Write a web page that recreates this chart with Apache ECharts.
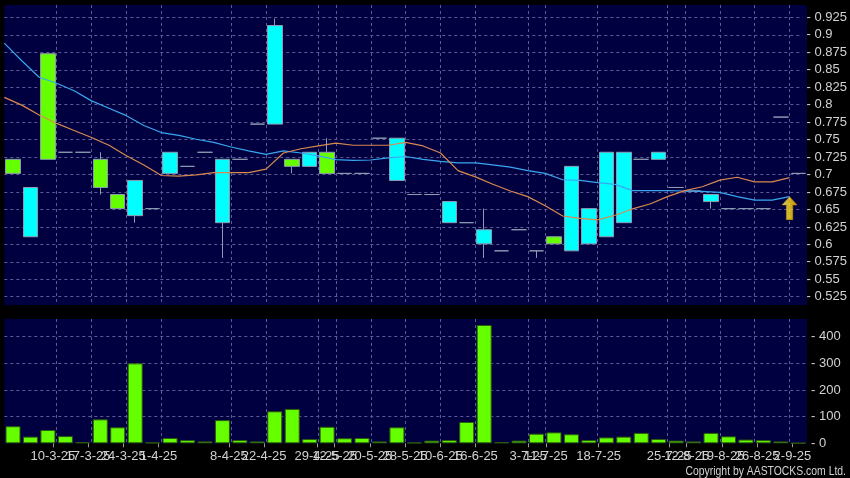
<!DOCTYPE html>
<html><head><meta charset="utf-8">
<script src="https://cdn.jsdelivr.net/npm/echarts@6/dist/echarts.min.js"></script>
<style>html,body{margin:0;padding:0;background:#000;}#c{width:850px;height:478px;}</style>
</head><body><div id="c"></div>
<script>
// ---- data ----
const dateLabels = ['', '', '', '10-3-25', '', '17-3-25', '', '24-3-25', '', '1-4-25', '', '', '', '8-4-25', '', '22-4-25', '', '', '29-4-25', '12-5-25', '', '20-5-25', '', '28-5-25', '', '10-6-25', '', '16-6-25', '', '', '3-7-25', '11-7-25', '', '', '18-7-25', '', '', '', '25-7-25', '12-8-25', '', '19-8-25', '', '26-8-25', '', '2-9-25'];
const opens  = [0.72,0.61,0.87,0.73,0.73,0.72,0.67,0.64,0.65,0.70,0.71,0.73,0.63,0.72,0.77,0.77,0.72,0.71,0.73,0.70,0.70,0.75,0.69,0.67,0.67,0.63,0.63,0.60,0.59,0.62,0.59,0.61,0.59,0.60,0.61,0.63,0.72,0.72,0.68,0.675,0.66,0.65,0.65,0.65,0.78,0.70];
const closes = [0.70,0.68,0.72,0.73,0.73,0.68,0.65,0.69,0.65,0.73,0.71,0.73,0.72,0.72,0.77,0.91,0.71,0.73,0.70,0.70,0.70,0.75,0.75,0.67,0.67,0.66,0.63,0.62,0.59,0.62,0.59,0.60,0.71,0.65,0.73,0.73,0.72,0.73,0.68,0.675,0.67,0.65,0.65,0.65,0.78,0.70];
const lows   = [0.70,0.61,0.72,0.73,0.73,0.67,0.65,0.63,0.65,0.70,0.71,0.73,0.58,0.72,0.77,0.77,0.70,0.71,0.70,0.70,0.70,0.75,0.69,0.67,0.67,0.63,0.63,0.58,0.59,0.62,0.58,0.60,0.59,0.60,0.61,0.63,0.72,0.72,0.68,0.675,0.65,0.65,0.65,0.65,0.78,0.70];
const highs  = [0.72,0.68,0.87,0.73,0.73,0.73,0.67,0.69,0.65,0.73,0.71,0.73,0.72,0.72,0.77,0.92,0.72,0.73,0.75,0.70,0.70,0.75,0.75,0.67,0.67,0.66,0.63,0.65,0.59,0.62,0.59,0.61,0.71,0.65,0.73,0.73,0.72,0.73,0.68,0.675,0.67,0.65,0.65,0.65,0.78,0.70];
const volumes = [64,25,50,27,4,90,60,300,3,20,12,7,87,12,7,120,129,16,62,19,20,7,60,3,10,12,80,444,4,10,36,41,34,12,22,25,39,16,10,7,39,26,14,12,7,1];
const maLong  = [0.885,0.860,0.8365,0.828,0.8175,0.803,0.7925,0.782,0.768,0.758,0.754,0.7485,0.744,0.7375,0.732,0.727,0.732,0.729,0.725,0.7195,0.7185,0.719,0.722,0.724,0.720,0.717,0.715,0.715,0.712,0.709,0.704,0.700,0.691,0.690,0.687,0.6845,0.6755,0.6755,0.6755,0.675,0.6745,0.673,0.667,0.662,0.662,0.667];
const maShort = [0.808,0.797,0.783,0.771,0.761,0.751,0.740,0.725,0.712,0.697,0.696,0.698,0.701,0.701,0.701,0.706,0.729,0.735,0.739,0.743,0.740,0.740,0.740,0.744,0.739,0.729,0.704,0.695,0.6845,0.675,0.667,0.654,0.6395,0.636,0.634,0.6405,0.6495,0.6565,0.667,0.6755,0.681,0.6905,0.6945,0.688,0.688,0.694];
const priceTicks = { min: 0.5, max: 0.95, step: 0.025 };
const volumeTicks = { min: 0, step: 100 };

// ---- layout / style ----
const NAVY = '#000040', GRIDC = '#5a5a96', TXT = '#d2d2d2';
const CYAN = '#00ffff', GREEN = '#66ff00', BORDER = '#8c9cb0';
const FONT = 'Liberation Sans';
const plotL = 4.3, plotW = 802.7;
const mainTop = 5, mainBot = 305;
const pxPerUnit = 17.6 / 0.025;           // pixels per price unit
const y0925 = 15;                          // pixel row of 0.925
const ovTop = y0925 - (priceTicks.max - 0.925) * pxPerUnit;
const ovBot = y0925 + (0.925 - priceTicks.min) * pxPerUnit;
const mainMin = 0.925 - (mainBot - y0925) / pxPerUnit;
const mainMax = 0.925 + (y0925 - mainTop) / pxPerUnit;
const volTop = 319, volBot = 443.3, volPxPer100 = 26.65;
const volMax = (volBot - volTop) / volPxPer100 * 100;

const bandIdx = dateLabels.map((_, i) => String(i));
const edgeIdx = dateLabels.concat(['']).map((_, i) => String(i));
const labeled = (i) => !!dateLabels[i];
// alternate labelled positions between two label axes so that no axis holds overlapping neighbours
const labelOrder = dateLabels.map((d, i) => d ? i : -1).filter(i => i >= 0);
const setA = new Set(labelOrder.filter((_, k) => k % 2 === 0));
const setB = new Set(labelOrder.filter((_, k) => k % 2 === 1));
const candleData = opens.map((o, i) => [o, closes[i], lows[i], highs[i]]);
const fmtY = (v) => '- ' + (+(+v).toFixed(3));

function labelAxis(gridIndex, set) {
  return { type: 'category', gridIndex, data: edgeIdx, boundaryGap: false, position: 'bottom', offset: 2,
    axisLine: { show: false },
    axisTick: { show: true, interval: (i) => set.has(i), length: 4, lineStyle: { color: '#9a9a9a' } },
    axisLabel: { show: true, interval: (i) => set.has(i), formatter: (v, i) => dateLabels[i] || '',
      showMinLabel: true, showMaxLabel: true, hideOverlap: false,
      color: TXT, fontFamily: FONT, fontSize: 13, margin: 5 },
    splitLine: { show: false } };
}

const chart = echarts.init(document.getElementById('c'), null, { renderer: 'canvas' });
chart.setOption({
  backgroundColor: '#000',
  animation: false,
  grid: [
    { left: plotL, width: plotW, top: mainTop, height: mainBot - mainTop, show: true, backgroundColor: NAVY, borderWidth: 0 },
    { left: plotL, width: plotW, top: volTop, height: volBot - volTop, show: true, backgroundColor: NAVY, borderWidth: 0 },
    { left: plotL, width: plotW, top: ovTop, height: ovBot - ovTop },
    { left: 0, width: 810, top: volTop, height: volBot - volTop },
    { left: 0, width: 810, top: volTop, height: volBot - volTop }
  ],
  xAxis: [
    { type: 'category', gridIndex: 0, data: bandIdx, boundaryGap: true, show: false },
    { type: 'category', gridIndex: 0, data: edgeIdx, boundaryGap: false,
      axisLine: { show: false }, axisTick: { show: false }, axisLabel: { show: false },
      splitLine: { show: true, interval: (i) => labeled(i), lineStyle: { color: GRIDC, type: [3, 3], width: 1 } } },
    { type: 'category', gridIndex: 1, data: bandIdx, boundaryGap: true, show: false },
    { type: 'category', gridIndex: 1, data: edgeIdx, boundaryGap: false,
      axisLine: { show: false }, axisTick: { show: false }, axisLabel: { show: false },
      splitLine: { show: true, interval: (i) => labeled(i), lineStyle: { color: GRIDC, type: [3, 3], width: 1 } } },
    { type: 'value', gridIndex: 2, show: false, min: 0, max: 1 },
    labelAxis(3, setA),
    labelAxis(4, setB)
  ],
  yAxis: [
    { type: 'value', gridIndex: 0, min: mainMin, max: mainMax, show: false },
    { type: 'value', gridIndex: 1, position: 'right', min: volumeTicks.min, max: volMax, interval: volumeTicks.step,
      axisLine: { show: false }, axisTick: { show: false },
      axisLabel: { formatter: fmtY, color: TXT, fontFamily: FONT, fontSize: 13, margin: 4, showMaxLabel: false },
      splitLine: { show: true, showMinLine: false, showMaxLine: false, lineStyle: { color: GRIDC, type: [3, 3], width: 1 } } },
    { type: 'value', gridIndex: 2, position: 'right', min: priceTicks.min, max: priceTicks.max, interval: priceTicks.step,
      axisLine: { show: false }, axisTick: { show: false },
      axisLabel: { formatter: fmtY, color: TXT, fontFamily: FONT, fontSize: 13, margin: 4, showMinLabel: false, showMaxLabel: false },
      splitLine: { show: true, showMinLine: false, showMaxLine: false, lineStyle: { color: GRIDC, type: [3, 3], width: 1 } } },
    { type: 'value', gridIndex: 3, show: false },
    { type: 'value', gridIndex: 4, show: false }
  ],
  series: [
    { type: 'candlestick', xAxisIndex: 0, yAxisIndex: 0, data: candleData, barWidth: 15,
      itemStyle: { color: CYAN, color0: GREEN, borderColor: BORDER, borderColor0: BORDER, borderColorDoji: BORDER, borderWidth: 1 } },
    { type: 'line', xAxisIndex: 1, yAxisIndex: 0, data: maLong, symbol: 'none', z: 3,
      lineStyle: { color: '#3aa6f0', width: 1.2 } },
    { type: 'line', xAxisIndex: 1, yAxisIndex: 0, data: maShort, symbol: 'none', z: 3,
      lineStyle: { color: '#d9884f', width: 1.2 } },
    { type: 'scatter', xAxisIndex: 1, yAxisIndex: 0, z: 4,
      data: [[maLong.length - 1, maLong[maLong.length - 1]]],
      symbol: 'path://M7,0 L14,8 L10,8 L10,22 L4,22 L4,8 L0,8 Z', symbolSize: [15, 23], symbolOffset: [0, '50%'],
      itemStyle: { color: new echarts.graphic.LinearGradient(0, 0, 1, 0, [{ offset: 0, color: '#fff6a0' }, { offset: 0.45, color: '#ffe21a' }, { offset: 1, color: '#f5b800' }]),
        borderColor: '#d08a00', borderWidth: 0.6 } },
    { type: 'bar', xAxisIndex: 2, yAxisIndex: 1, data: volumes, barWidth: 15,
      itemStyle: { color: GREEN, borderColor: '#2c5a0c', borderWidth: 1 } }
  ],
  graphic: [
    { type: 'text', x: 846, y: 471, scaleX: 0.8, silent: true,
      style: { text: 'Copyright by AASTOCKS.com Ltd.', fill: TXT, font: '13px "Liberation Sans"',
        textAlign: 'right', textVerticalAlign: 'middle', align: 'right', verticalAlign: 'middle' } }
  ]
});
</script></body></html>
